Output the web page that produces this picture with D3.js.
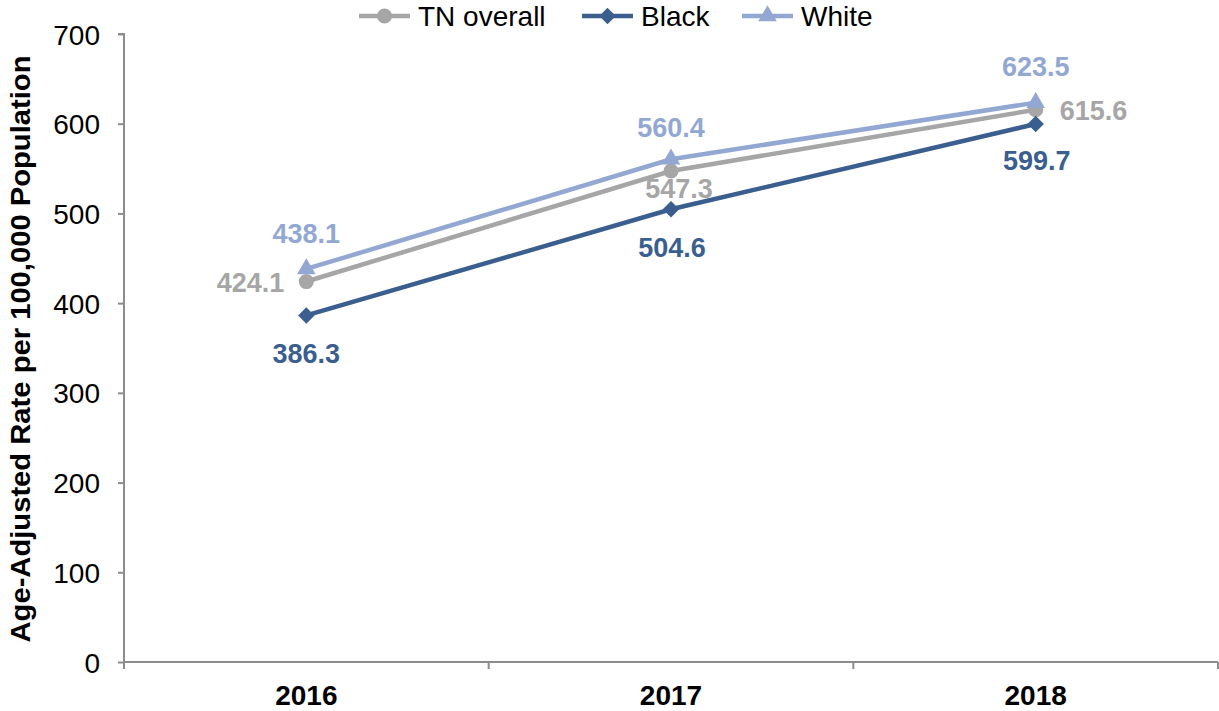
<!DOCTYPE html>
<html><head><meta charset="utf-8">
<script src="https://cdn.jsdelivr.net/npm/d3@7"></script>
<style>body{margin:0;background:#fff}svg{display:block}text{font-family:"Liberation Sans",Arial,sans-serif}</style>
</head><body><svg id="c" width="1219" height="711"></svg>
<script>
const years = ["2016","2017","2018"];
const tnOverall = [424.1, 547.3, 615.6];
const black = [386.3, 504.6, 599.7];
const white = [438.1, 560.4, 623.5];
const yTicks = [0,100,200,300,400,500,600,700];
const seriesNames = ["TN overall","Black","White"];

const svg = d3.select("#c");
const m = {l:124, r:1218, t:34, b:662};
const x = d3.scaleBand().domain(years).range([m.l, m.r]);
const y = d3.scaleLinear().domain([0,700]).range([m.b, m.t]);
const axisCol = "#8c8c8c";
const FF = "Liberation Sans, Arial, sans-serif";

// y axis
const ya = svg.append("g").attr("transform",`translate(${m.l},0)`)
  .call(d3.axisLeft(y).tickValues(yTicks).tickSize(6).tickPadding(18));
ya.selectAll("path,line").attr("stroke",axisCol).attr("stroke-width",2);
ya.select(".domain").attr("d",`M-6,${m.t}H0V${m.b}`);
ya.selectAll("text").attr("font-size",28).attr("fill","#000").attr("font-family",FF).attr("dy","0.36em");

// x axis
const xa = svg.append("g").attr("transform",`translate(0,${m.b})`)
  .call(d3.axisBottom(x).tickSize(0));
xa.select(".domain").attr("stroke",axisCol).attr("stroke-width",2).attr("d",`M${m.l},0H${m.r}`);
xa.selectAll("text").attr("y",43).attr("dy",0).attr("font-size",28).attr("font-weight","bold").attr("fill","#000").attr("font-family",FF);
const bounds = [m.l, ...years.map(d=>x(d)+x.bandwidth())];
xa.selectAll(".bt").data(bounds).enter().append("line")
  .attr("x1",d=>d).attr("x2",d=>d).attr("y1",0).attr("y2",7)
  .attr("stroke",axisCol).attr("stroke-width",2);

// axis title
svg.append("text").attr("transform",`translate(30,${349}) rotate(-90)`)
  .attr("text-anchor","middle").attr("font-size",27).attr("font-weight","bold")
  .attr("textLength",587).attr("lengthAdjust","spacingAndGlyphs")
  .text("Age-Adjusted Rate per 100,000 Population");

const cx = d => x(d)+x.bandwidth()/2;
const series = [
  {name:seriesNames[0], vals:tnOverall, col:"#a6a6a6", sym:d3.symbolCircle, size:180, rot:0},
  {name:seriesNames[1], vals:black, col:"#3a5f8f", sym:d3.symbolSquare, size:135, rot:45},
  {name:seriesNames[2], vals:white, col:"#92a8d2", sym:d3.symbolTriangle, size:150, rot:0}
];
const line = d3.line().x((d,i)=>cx(years[i])).y(d=>y(d));
series.forEach(s=>{
  svg.append("path").attr("d",line(s.vals)).attr("fill","none").attr("stroke",s.col).attr("stroke-width",4.5);
});
series.forEach(s=>{
  s.vals.forEach((v,i)=>{
    svg.append("path").attr("d",d3.symbol(s.sym,s.size)()).attr("fill",s.col)
      .attr("transform",`translate(${cx(years[i])},${y(v)}) rotate(${s.rot})`);
  });
});

// data labels
function lbl(val, i, col, dx, dy, anchor){
  svg.append("text").attr("x",cx(years[i])+dx).attr("y",y(val)+dy).attr("text-anchor",anchor||"middle")
    .attr("font-size",27).attr("font-weight","bold").attr("fill",col).text(val.toFixed(1));
}
lbl(white[0],0,"#92a8d2",0,-26);
lbl(tnOverall[0],0,"#a6a6a6",-22,10.5,"end");
lbl(black[0],0,"#3a5f8f",0,47.5);
lbl(white[1],1,"#92a8d2",0,-22.5);
lbl(tnOverall[1],1,"#a6a6a6",8,27);
lbl(black[1],1,"#3a5f8f",1,47.5);
lbl(white[2],2,"#92a8d2",0,-26.5);
lbl(tnOverall[2],2,"#a6a6a6",24,10.5,"start");
lbl(black[2],2,"#3a5f8f",1,46);

// legend
const legX = [359, 582, 742];
series.forEach((s,k)=>{
  const g = svg.append("g").attr("transform",`translate(${legX[k]},16)`);
  g.append("line").attr("x1",0).attr("x2",51).attr("stroke",s.col).attr("stroke-width",4.5);
  g.append("path").attr("d",d3.symbol(s.sym,s.size)()).attr("fill",s.col).attr("transform",`translate(25.5,0) rotate(${s.rot})`);
  g.append("text").attr("x",59).attr("y",10).attr("font-size",28).attr("fill","#000").text(s.name);
});
</script></body></html>
